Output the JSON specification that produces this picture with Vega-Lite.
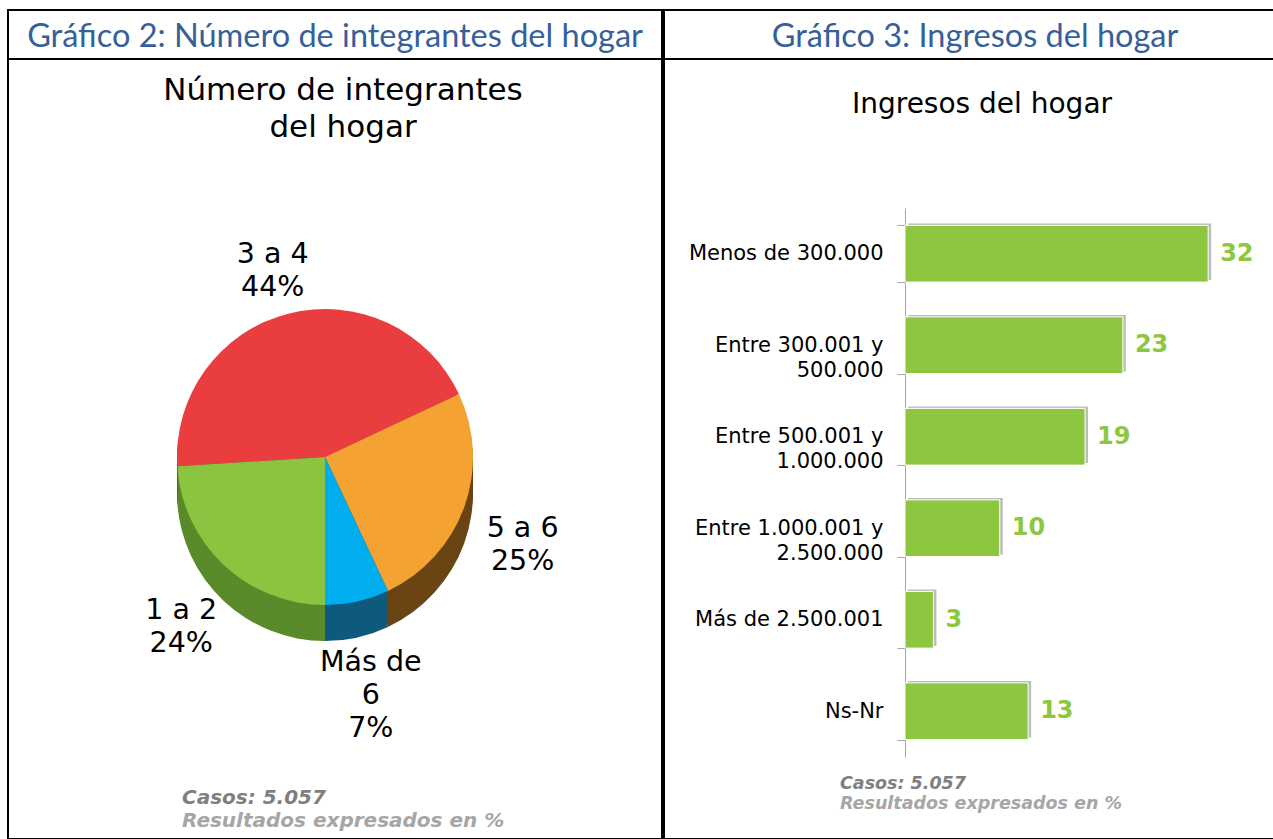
{
  "$schema": "https://vega.github.io/schema/vega-lite/v6.json",
  "padding": {"left": 7, "top": 9, "right": 0, "bottom": 0},
  "background": "white",
  "spacing": 0,
  "config": {
    "view": {"stroke": "black", "strokeWidth": 2},
    "concat": {"spacing": 0},
    "font": "DejaVu Sans"
  },
  "hconcat": [
    {
      "spacing": 0,
      "bounds": "flush",
      "title": {"text": ["Número de integrantes", "del hogar"], "anchor": "middle", "offset": -135, "dx": 8, "font": "DejaVu Sans", "fontSize": 31, "fontWeight": "normal", "color": "black", "lineHeight": 37},
      "vconcat": [
        {
          "width": 654, "height": 49,
          "view": {"stroke": "black", "strokeWidth": 2},
          "data": {"values": [{"t": "Gráfico 2: Número de integrantes del hogar"}]},
          "mark": {"type": "text", "font": "Lato", "fontSize": 32.5, "color": "#36609A", "dy": 2},
          "encoding": {"text": {"field": "t"}}
        },
        {
          "width": 654, "height": 780,
          "view": {"stroke": "black", "strokeWidth": 2},
          "title": {"text": "Casos: 5.057", "subtitle": "Resultados expresados en %", "orient": "bottom", "anchor": "start", "frame": "group", "offset": -51, "dx": 174, "font": "DejaVu Sans", "fontSize": 20, "fontWeight": "bold", "fontStyle": "italic", "color": "#7F7F7F", "subtitleFont": "DejaVu Sans", "subtitleFontSize": 20, "subtitleFontWeight": "bold", "subtitleFontStyle": "italic", "subtitleColor": "#A6A6A6", "subtitlePadding": 3},
          "data": {"values": [
            {"cat": "3 a 4", "pct": 44, "ord": 1, "label": "3 a 4\n44%"},
            {"cat": "5 a 6", "pct": 25, "ord": 2, "label": "5 a 6\n25%"},
            {"cat": "Más de 6", "pct": 7, "ord": 3, "label": "Más de\n6\n7%"},
            {"cat": "1 a 2", "pct": 24, "ord": 4, "label": "1 a 2\n24%"}
          ]},
          "encoding": {
            "theta": {"field": "pct", "type": "quantitative", "stack": true, "scale": {"range": [-1.6336, 4.6496]}},
            "order": {"field": "ord", "type": "quantitative"}
          },
          "layer": [
            {"mark": {"type": "arc", "radius": 148, "xOffset": -10, "yOffset": 44}, "encoding": {"color": {"field": "cat", "type": "nominal", "scale": {"domain": ["3 a 4", "5 a 6", "Más de 6", "1 a 2"], "range": ["#8E1F22", "#6B4413", "#0D5A7C", "#5A8A2A"]}, "legend": null}}},
            {"mark": {"type": "arc", "radius": 148, "xOffset": -10, "yOffset": 40}, "encoding": {"color": {"field": "cat", "type": "nominal", "scale": {"domain": ["3 a 4", "5 a 6", "Más de 6", "1 a 2"], "range": ["#8E1F22", "#6B4413", "#0D5A7C", "#5A8A2A"]}, "legend": null}}},
            {"mark": {"type": "arc", "radius": 148, "xOffset": -10, "yOffset": 36}, "encoding": {"color": {"field": "cat", "type": "nominal", "scale": {"domain": ["3 a 4", "5 a 6", "Más de 6", "1 a 2"], "range": ["#8E1F22", "#6B4413", "#0D5A7C", "#5A8A2A"]}, "legend": null}}},
            {"mark": {"type": "arc", "radius": 148, "xOffset": -10, "yOffset": 32}, "encoding": {"color": {"field": "cat", "type": "nominal", "scale": {"domain": ["3 a 4", "5 a 6", "Más de 6", "1 a 2"], "range": ["#8E1F22", "#6B4413", "#0D5A7C", "#5A8A2A"]}, "legend": null}}},
            {"mark": {"type": "arc", "radius": 148, "xOffset": -10, "yOffset": 28}, "encoding": {"color": {"field": "cat", "type": "nominal", "scale": {"domain": ["3 a 4", "5 a 6", "Más de 6", "1 a 2"], "range": ["#8E1F22", "#6B4413", "#0D5A7C", "#5A8A2A"]}, "legend": null}}},
            {"mark": {"type": "arc", "radius": 148, "xOffset": -10, "yOffset": 24}, "encoding": {"color": {"field": "cat", "type": "nominal", "scale": {"domain": ["3 a 4", "5 a 6", "Más de 6", "1 a 2"], "range": ["#8E1F22", "#6B4413", "#0D5A7C", "#5A8A2A"]}, "legend": null}}},
            {"mark": {"type": "arc", "radius": 148, "xOffset": -10, "yOffset": 20}, "encoding": {"color": {"field": "cat", "type": "nominal", "scale": {"domain": ["3 a 4", "5 a 6", "Más de 6", "1 a 2"], "range": ["#8E1F22", "#6B4413", "#0D5A7C", "#5A8A2A"]}, "legend": null}}},
            {"mark": {"type": "arc", "radius": 148, "xOffset": -10, "yOffset": 16}, "encoding": {"color": {"field": "cat", "type": "nominal", "scale": {"domain": ["3 a 4", "5 a 6", "Más de 6", "1 a 2"], "range": ["#8E1F22", "#6B4413", "#0D5A7C", "#5A8A2A"]}, "legend": null}}},
            {"mark": {"type": "arc", "radius": 148, "xOffset": -10, "yOffset": 12}, "encoding": {"color": {"field": "cat", "type": "nominal", "scale": {"domain": ["3 a 4", "5 a 6", "Más de 6", "1 a 2"], "range": ["#8E1F22", "#6B4413", "#0D5A7C", "#5A8A2A"]}, "legend": null}}},
            {"mark": {"type": "arc", "radius": 148, "xOffset": -10, "yOffset": 8}, "encoding": {"color": {"field": "cat", "type": "nominal", "scale": {"domain": ["3 a 4", "5 a 6", "Más de 6", "1 a 2"], "range": ["#E93D40", "#F4A231", "#00ADEF", "#8BC43F"]}, "legend": null}}},
            {"mark": {"type": "text", "radius": 210, "xOffset": -10, "yOffset": 8, "font": "DejaVu Sans", "fontSize": 28.5, "lineBreak": "\n", "lineHeight": 33, "color": "black"}, "encoding": {"text": {"field": "label"}}}
          ],
          "resolve": {"scale": {"color": "independent"}}
        }
      ]
    },
    {
      "spacing": 0,
      "bounds": "flush",
      "title": {"text": "Ingresos del hogar", "anchor": "middle", "offset": -110, "dx": 13, "font": "DejaVu Sans", "fontSize": 28, "fontWeight": "normal", "color": "black"},
      "vconcat": [
        {
          "width": 610, "height": 49,
          "view": {"stroke": "black", "strokeWidth": 2},
          "data": {"values": [{"t": "Gráfico 3: Ingresos del hogar"}]},
          "mark": {"type": "text", "font": "Lato", "fontSize": 32.5, "color": "#36609A", "dy": 2, "dx": 6},
          "encoding": {"text": {"field": "t"}}
        },
        {
          "width": 610, "height": 780,
          "view": {"stroke": "black", "strokeWidth": 2},
          "title": {"text": "Casos: 5.057", "subtitle": "Resultados expresados en %", "orient": "bottom", "anchor": "start", "frame": "group", "offset": -64, "dx": 176, "font": "DejaVu Sans", "fontSize": 17.5, "fontWeight": "bold", "fontStyle": "italic", "color": "#7F7F7F", "subtitleFont": "DejaVu Sans", "subtitleFontSize": 17.5, "subtitleFontWeight": "bold", "subtitleFontStyle": "italic", "subtitleColor": "#A6A6A6", "subtitlePadding": 2},
          "data": {"values": [
            {"cat": "Menos de 300.000", "v": 32},
            {"cat": "Entre 300.001 y\n500.000", "v": 23},
            {"cat": "Entre 500.001 y\n1.000.000", "v": 19},
            {"cat": "Entre 1.000.001 y\n2.500.000", "v": 10},
            {"cat": "Más de 2.500.001", "v": 3},
            {"cat": "Ns-Nr", "v": 13}
          ]},
          "encoding": {
            "y": {"field": "cat", "type": "nominal", "sort": null,
                  "scale": {"range": [149, 698], "paddingInner": 0.38, "paddingOuter": 0.19},
                  "axis": {"title": null, "offset": -241, "tickBand": "extent", "domainColor": "#A6A6A6", "tickColor": "#A6A6A6", "tickSize": 8, "labelFontSize": 21, "labelColor": "black", "labelFont": "DejaVu Sans", "labelPadding": 14, "labelExpr": "split(datum.label, '\\n')", "labelLineHeight": 25, "labelLimit": 400}},
            "x": {"field": "v", "type": "quantitative", "scale": {"domain": [0, 38], "range": [241, 601]}, "axis": null}
          },
          "layer": [
            {"mark": {"type": "bar", "color": "#BDBDBD", "xOffset": 3, "yOffset": -2}},
            {"mark": {"type": "bar", "color": "#8DC63F", "stroke": "white", "strokeWidth": 1}},
            {"mark": {"type": "text", "align": "left", "dx": 12, "font": "DejaVu Sans", "fontSize": 24, "fontWeight": "bold", "color": "#8DC63F"}, "encoding": {"text": {"field": "v", "type": "quantitative"}}}
          ]
        }
      ]
    }
  ]
}
